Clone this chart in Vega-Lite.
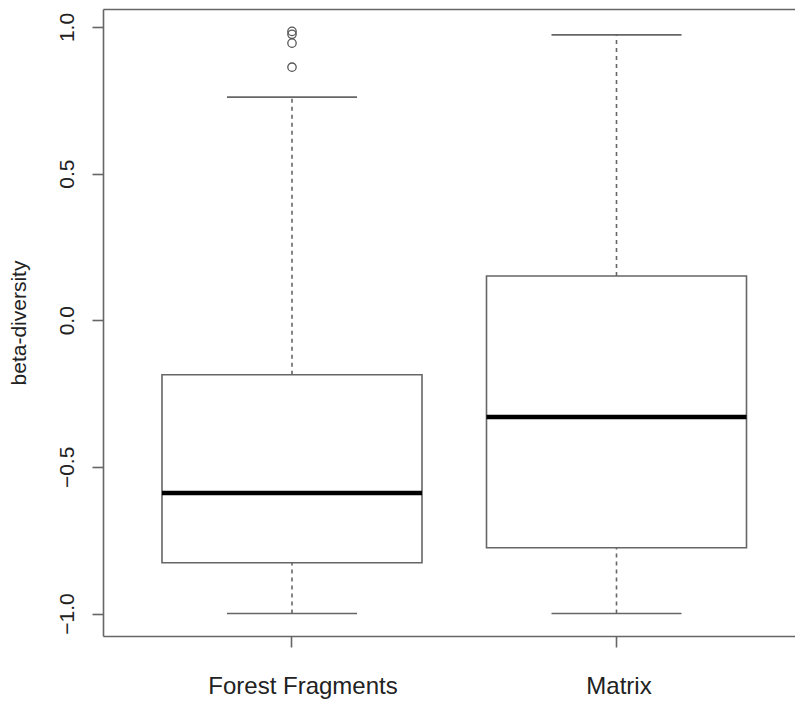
{
  "$schema": "https://vega.github.io/schema/vega-lite/v6.json",
  "autosize": "none",
  "width": 692,
  "height": 627,
  "padding": {"left": 103, "top": 9, "right": 0, "bottom": 66},
  "background": "white",
  "config": {
    "view": {"stroke": null},
    "font": "Liberation Sans",
    "axis": {"grid": false, "domainColor": "#666", "domainWidth": 1.6, "tickColor": "#666", "tickWidth": 1.6, "tickSize": 11, "labelColor": "#222", "labelFont": "Liberation Sans", "titleFont": "Liberation Sans", "titleColor": "#222", "titleFontWeight": "normal", "labelLimit": 0, "titleLimit": 0}
  },
  "datasets": {
    "stats": [
      {"group": "Forest Fragments", "lower": -1.0, "q1": -0.827, "median": -0.589, "q3": -0.186, "upper": 0.761},
      {"group": "Matrix", "lower": -1.0, "q1": -0.776, "median": -0.330, "q3": 0.151, "upper": 0.973}
    ],
    "outliers": [
      {"group": "Forest Fragments", "value": 0.985},
      {"group": "Forest Fragments", "value": 0.975},
      {"group": "Forest Fragments", "value": 0.945},
      {"group": "Forest Fragments", "value": 0.863}
    ]
  },
  "resolve": {"axis": {"x": "independent"}},
  "layer": [
    {
      "data": {"name": "stats"},
      "mark": {"type": "rule", "color": "#666", "strokeWidth": 1.6, "strokeDash": [4, 4]},
      "encoding": {
        "x": {"field": "group", "type": "nominal", "sort": null,
          "scale": {"domain": ["Forest Fragments", "Matrix"], "paddingInner": 0, "paddingOuter": 0.06626, "align": 0.622},
          "axis": {"orient": "bottom", "title": null, "labelAngle": 0, "labelFontSize": 24, "labelPadding": 46, "labelBaseline": "alphabetic", "labelAlign": "center", "labelLimit": 0,
            "labelOffset": {"condition": {"test": "datum.value === 'Forest Fragments'", "value": 11}, "value": 2.5}}},
        "y": {"field": "lower", "type": "quantitative", "title": "beta-diversity",
          "scale": {"domain": [-1.0767, 1.0614], "nice": false, "zero": false},
          "axis": {"values": [-1, -0.5, 0, 0.5, 1], "format": ".1f", "labelAngle": 270, "labelFontSize": 21, "labelAlign": "center", "labelBaseline": "alphabetic", "labelPadding": 19,
            "title": "beta-diversity", "titleFontSize": 21, "titleAngle": 270, "titleX": -78, "titleY": 313.5, "titleAlign": "center", "titleBaseline": "alphabetic"}},
        "y2": {"field": "q1"}
      }
    },
    {
      "data": {"name": "stats"},
      "mark": {"type": "rule", "color": "#666", "strokeWidth": 1.6, "strokeDash": [4, 4]},
      "encoding": {
        "x": {"field": "group", "type": "nominal", "sort": null, "scale": {"domain": ["Forest Fragments", "Matrix"], "paddingInner": 0, "paddingOuter": 0.06626, "align": 0.622}, "axis": null},
        "y": {"field": "q3", "type": "quantitative", "title": "beta-diversity"},
        "y2": {"field": "upper"}
      }
    },
    {
      "data": {"name": "stats"},
      "mark": {"type": "bar", "size": 260, "fill": "white", "stroke": "#666", "strokeWidth": 1.6},
      "encoding": {
        "x": {"field": "group", "type": "nominal", "sort": null, "scale": {"domain": ["Forest Fragments", "Matrix"], "paddingInner": 0, "paddingOuter": 0.06626, "align": 0.622}, "axis": null},
        "y": {"field": "q1", "type": "quantitative", "title": "beta-diversity"},
        "y2": {"field": "q3"}
      }
    },
    {
      "data": {"name": "stats"},
      "mark": {"type": "tick", "orient": "horizontal", "size": 260, "thickness": 4.5, "color": "black", "opacity": 1},
      "encoding": {
        "x": {"field": "group", "type": "nominal", "sort": null, "scale": {"domain": ["Forest Fragments", "Matrix"], "paddingInner": 0, "paddingOuter": 0.06626, "align": 0.622}, "axis": null},
        "y": {"field": "median", "type": "quantitative", "title": "beta-diversity"}
      }
    },
    {
      "data": {"name": "stats"},
      "mark": {"type": "tick", "orient": "horizontal", "size": 130, "thickness": 1.6, "color": "#666", "opacity": 1},
      "encoding": {
        "x": {"field": "group", "type": "nominal", "sort": null, "scale": {"domain": ["Forest Fragments", "Matrix"], "paddingInner": 0, "paddingOuter": 0.06626, "align": 0.622}, "axis": null},
        "y": {"field": "upper", "type": "quantitative", "title": "beta-diversity"}
      }
    },
    {
      "data": {"name": "stats"},
      "mark": {"type": "tick", "orient": "horizontal", "size": 130, "thickness": 1.6, "color": "#666", "opacity": 1},
      "encoding": {
        "x": {"field": "group", "type": "nominal", "sort": null, "scale": {"domain": ["Forest Fragments", "Matrix"], "paddingInner": 0, "paddingOuter": 0.06626, "align": 0.622}, "axis": null},
        "y": {"field": "lower", "type": "quantitative", "title": "beta-diversity"}
      }
    },
    {
      "data": {"name": "outliers"},
      "mark": {"type": "point", "shape": "circle", "size": 70, "filled": false, "stroke": "#555", "strokeWidth": 1.3, "opacity": 1},
      "encoding": {
        "x": {"field": "group", "type": "nominal", "sort": null, "scale": {"domain": ["Forest Fragments", "Matrix"], "paddingInner": 0, "paddingOuter": 0.06626, "align": 0.622},
          "axis": {"orient": "top", "labels": false, "ticks": false, "domain": true, "title": null}},
        "y": {"field": "value", "type": "quantitative", "title": "beta-diversity"}
      }
    }
  ]
}
